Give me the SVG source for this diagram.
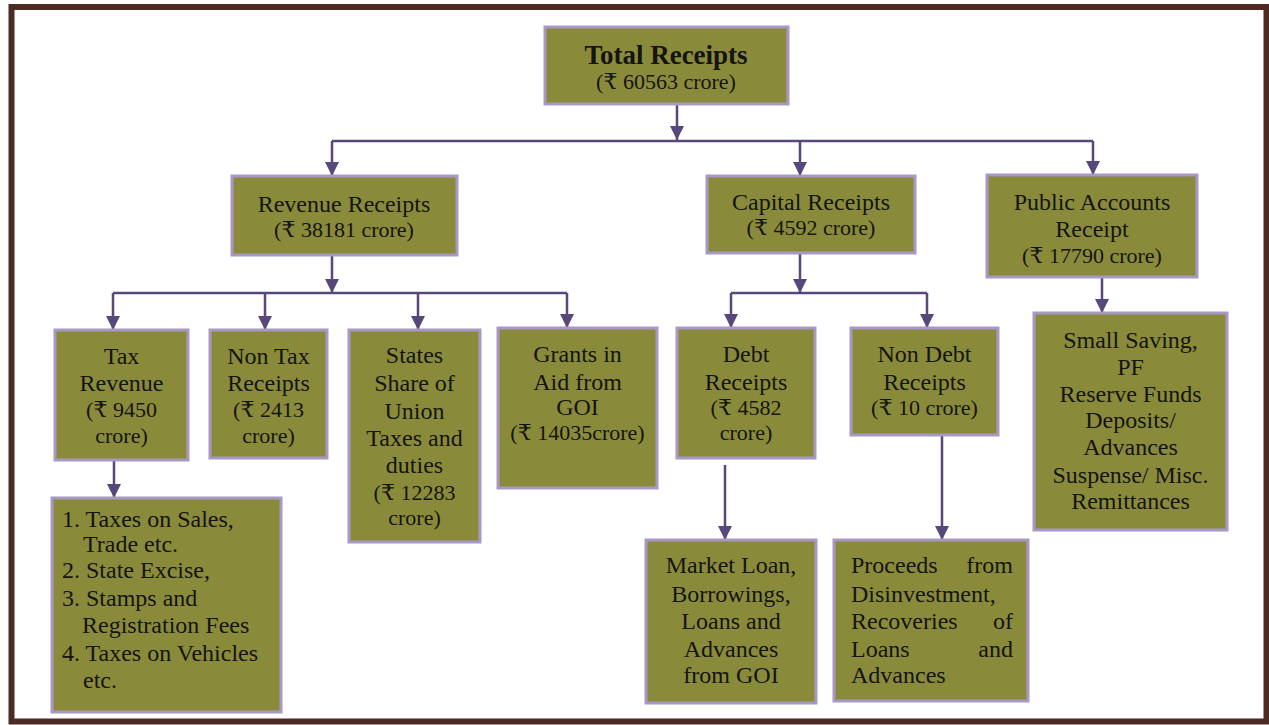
<svg xmlns="http://www.w3.org/2000/svg" width="1269" height="725" viewBox="0 0 1269 725">
<defs>
<marker id="ah" viewBox="0 0 14 14" refX="14" refY="7" markerWidth="14" markerHeight="14" markerUnits="userSpaceOnUse" orient="auto">
<path d="M0,0 L14,7 L0,14 z" fill="#57477a"/>
</marker>
</defs>
<style>
.box{fill:#8a8a3b;stroke:#a898c6;stroke-width:3}
.t{font-family:"Liberation Serif","DejaVu Serif","Noto Sans",serif;font-size:24px;fill:#141410;text-anchor:middle}
.a{font-size:22px}
.l{text-anchor:start}
.r{text-anchor:end}
.b{font-weight:bold;font-size:27px}
.c{fill:none;stroke:#57477a;stroke-width:2.5;marker-end:url(#ah)}
.cl{fill:none;stroke:#57477a;stroke-width:2.5}
</style>
<rect x="0" y="0" width="1269" height="725" fill="#ffffff"/>
<rect x="11.5" y="7" width="1255" height="714.5" fill="none" stroke="#4b2b24" stroke-width="6"/>

<g id="connectors">
<path class="c" d="M677,104 V140"/>
<path class="cl" d="M332,141 H1093"/>
<path class="c" d="M332,141 V176"/>
<path class="c" d="M800,141 V176"/>
<path class="c" d="M1093,141 V175"/>
<path class="c" d="M332,255 V293"/>
<path class="cl" d="M113,293 H567"/>
<path class="c" d="M113,293 V330"/>
<path class="c" d="M265,293 V330"/>
<path class="c" d="M418,293 V330"/>
<path class="c" d="M567,293 V328"/>
<path class="c" d="M800,253 V293"/>
<path class="cl" d="M731,293 H927"/>
<path class="c" d="M731,293 V328"/>
<path class="c" d="M927,293 V328"/>
<path class="c" d="M1102,277 V313"/>
<path class="c" d="M114,460 V498"/>
<path class="c" d="M725,465 V540"/>
<path class="c" d="M942,435 V540"/>
</g>

<g id="total">
<rect class="box" x="545" y="27" width="243" height="77"/>
<text class="t b" x="666" y="64">Total Receipts</text>
<text class="t a" x="666" y="89">(₹ 60563 crore)</text>
</g>

<g id="revenue">
<rect class="box" x="232" y="176" width="225" height="79"/>
<text class="t" x="344" y="212">Revenue Receipts</text>
<text class="t a" x="344" y="237">(₹ 38181 crore)</text>
</g>

<g id="capital">
<rect class="box" x="707" y="176" width="208" height="77"/>
<text class="t" x="811" y="210">Capital Receipts</text>
<text class="t a" x="811" y="235">(₹ 4592 crore)</text>
</g>

<g id="public">
<rect class="box" x="987" y="175" width="210" height="102"/>
<text class="t" x="1092" y="210">Public Accounts</text>
<text class="t" x="1092" y="237">Receipt</text>
<text class="t a" x="1092" y="263">(₹ 17790 crore)</text>
</g>

<g id="tax">
<rect class="box" x="55" y="330" width="133" height="130"/>
<text class="t" x="121.5" y="364">Tax</text>
<text class="t" x="121.5" y="391">Revenue</text>
<text class="t a" x="121.5" y="417">(₹ 9450</text>
<text class="t a" x="121.5" y="443">crore)</text>
</g>

<g id="nontax">
<rect class="box" x="210" y="330" width="117" height="128"/>
<text class="t" x="268.5" y="364">Non Tax</text>
<text class="t" x="268.5" y="391">Receipts</text>
<text class="t a" x="268.5" y="417">(₹ 2413</text>
<text class="t a" x="268.5" y="443">crore)</text>
</g>

<g id="states">
<rect class="box" x="349" y="330" width="131" height="212"/>
<text class="t" x="414.5" y="363">States</text>
<text class="t" x="414.5" y="391">Share of</text>
<text class="t" x="414.5" y="419">Union</text>
<text class="t" x="414.5" y="446">Taxes and</text>
<text class="t" x="414.5" y="473">duties</text>
<text class="t a" x="414.5" y="500">(₹ 12283</text>
<text class="t a" x="414.5" y="525">crore)</text>
</g>

<g id="grants">
<rect class="box" x="498" y="328" width="159" height="160"/>
<text class="t" x="577.5" y="362">Grants in</text>
<text class="t" x="577.5" y="390">Aid from</text>
<text class="t" x="577.5" y="415">GOI</text>
<text class="t a" x="577.5" y="440">(₹ 14035crore)</text>
</g>

<g id="debt">
<rect class="box" x="677" y="328" width="138" height="130"/>
<text class="t" x="746" y="362">Debt</text>
<text class="t" x="746" y="390">Receipts</text>
<text class="t a" x="746" y="415">(₹ 4582</text>
<text class="t a" x="746" y="440">crore)</text>
</g>

<g id="nondebt">
<rect class="box" x="851" y="328" width="147" height="107"/>
<text class="t" x="924.5" y="362">Non Debt</text>
<text class="t" x="924.5" y="390">Receipts</text>
<text class="t a" x="924.5" y="415">(₹ 10 crore)</text>
</g>

<g id="smallsaving">
<rect class="box" x="1034" y="313" width="193" height="217"/>
<text class="t" x="1130.5" y="348">Small Saving,</text>
<text class="t" x="1130.5" y="375">PF</text>
<text class="t" x="1130.5" y="402">Reserve Funds</text>
<text class="t" x="1130.5" y="428">Deposits/</text>
<text class="t" x="1130.5" y="455">Advances</text>
<text class="t" x="1130.5" y="483">Suspense/ Misc.</text>
<text class="t" x="1130.5" y="509">Remittances</text>
</g>

<g id="taxlist">
<rect class="box" x="52" y="498" width="229" height="214"/>
<text class="t l" x="62" y="527">1. Taxes on Sales,</text>
<text class="t l" x="83" y="552">Trade etc.</text>
<text class="t l" x="62" y="578">2. State Excise,</text>
<text class="t l" x="62" y="606">3. Stamps and</text>
<text class="t l" x="82" y="633">Registration Fees</text>
<text class="t l" x="62" y="661">4. Taxes on Vehicles</text>
<text class="t l" x="83" y="688">etc.</text>
</g>

<g id="marketloan">
<rect class="box" x="646" y="540" width="170" height="163"/>
<text class="t" x="731" y="573">Market Loan,</text>
<text class="t" x="731" y="602">Borrowings,</text>
<text class="t" x="731" y="629">Loans and</text>
<text class="t" x="731" y="657">Advances</text>
<text class="t" x="731" y="683">from GOI</text>
</g>

<g id="proceeds">
<rect class="box" x="834" y="540" width="194" height="161"/>
<text class="t l" x="851" y="573">Proceeds</text>
<text class="t r" x="1013" y="573">from</text>
<text class="t l" x="851" y="602">Disinvestment,</text>
<text class="t l" x="851" y="629">Recoveries</text>
<text class="t r" x="1013" y="629">of</text>
<text class="t l" x="851" y="657">Loans</text>
<text class="t r" x="1013" y="657">and</text>
<text class="t l" x="851" y="683">Advances</text>
</g>
</svg>
